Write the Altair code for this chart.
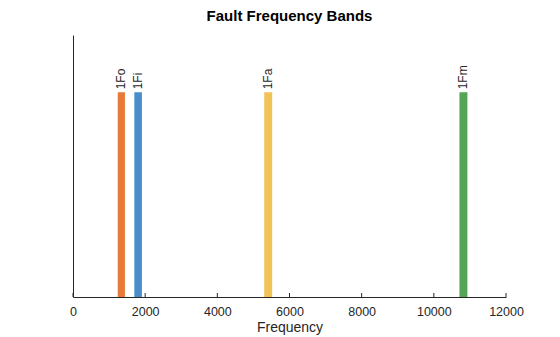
import altair as alt
import pandas as pd

labels = ["1Fo", "1Fi", "1Fa", "1Fm"]
band_lo = [1240, 1700, 5300, 10710]
band_hi = [1440, 1910, 5520, 10930]
band_top = [1, 1, 1, 1]
colors = ["#E6732D", "#3D88C8", "#F0BF4C", "#4DA04D"]
x_ticks = [0, 2000, 4000, 6000, 8000, 10000, 12000]

df = pd.DataFrame({
    "label": labels,
    "lo": band_lo,
    "hi": band_hi,
    "top": band_top,
    "mid": [(a + b) / 2 for a, b in zip(band_lo, band_hi)],
    "bottom": [0] * len(labels),
})
ticks_df = pd.DataFrame({"t": x_ticks})

xscale = alt.Scale(domain=[0, 12000], nice=False, zero=False)
yscale = alt.Scale(domain=[0, 1.28], nice=False)
color = alt.Color("label:N", scale=alt.Scale(domain=labels, range=colors), legend=None)

bars = alt.Chart(df).mark_rect(opacity=0.95).encode(
    x=alt.X("lo:Q", scale=xscale,
            axis=alt.Axis(values=x_ticks, format="d", title="Frequency", ticks=False,
                          domainColor="#262626", labelColor="#262626", titleColor="#262626",
                          labelFont="Liberation Sans", titleFont="Liberation Sans",
                          labelFontSize=12.5, titleFontSize=14, titleFontWeight="normal",
                          labelPadding=8, titlePadding=3, grid=False, labelFlush=False)),
    x2="hi:Q",
    y=alt.Y("bottom:Q", scale=yscale,
            axis=alt.Axis(title=None, labels=False, ticks=False, grid=False, domainColor="#262626")),
    y2="top:Q",
    color=color,
)

texts = alt.Chart(df).mark_text(angle=270, align="left", baseline="middle", dx=3,
                                font="Liberation Sans", fontSize=12, color="#262626").encode(
    x=alt.X("mid:Q", scale=xscale),
    y=alt.Y("top:Q", scale=yscale),
    text="label:N",
)

tickmarks = alt.Chart(ticks_df).mark_rule(color="#262626", strokeWidth=1).encode(
    x=alt.X("t:Q", scale=xscale),
    y=alt.value(262),
    y2=alt.value(258),
)

chart = alt.layer(bars, texts, tickmarks).properties(
    width=433,
    height=262,
    title=alt.TitleParams("Fault Frequency Bands", font="Liberation Sans", fontSize=15,
                          fontWeight="bold", color="#000000", offset=11),
    autosize=alt.AutoSizeParams(type="none"),
    padding={"left": 73, "top": 35, "right": 54, "bottom": 40},
).configure(background="white").configure_view(stroke=None, strokeWidth=0)

chart.save("out.html", embed_options={"renderer": "svg", "actions": False})
